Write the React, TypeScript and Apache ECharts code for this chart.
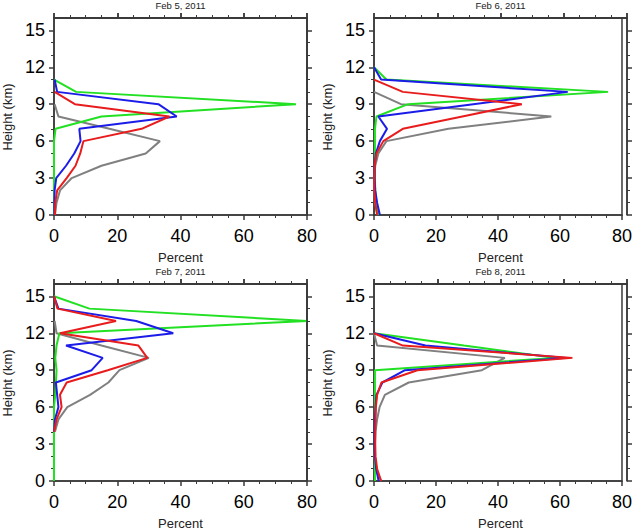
import React, { useEffect, useRef } from "react";
import * as echarts from "echarts";

const HEIGHTS = [0, 1, 2, 3, 4, 5, 6, 7, 8, 9, 10, 11, 12, 13, 14, 15];
const TITLES = ["Feb 5, 2011", "Feb 6, 2011", "Feb 7, 2011", "Feb 8, 2011"];
const Y_TICKS = [0, 3, 6, 9, 12, 15];

// values indexed by height (km) from 0; null = no data at that height
const FEB5_GRAY = [0.3, 0.8, 1.9, 5.6, 15, 29, 33.5, 17.5, 1.4, 0.2];
const FEB5_GREEN = [0, 0, 0, 0, 0, 0, 0, 0.5, 15, 76.5, 7, 0];
const FEB5_BLUE = [0.1, 0.1, 0.2, 0.7, 3.8, 6.4, 8.4, 8, 38.8, 33, 1, 0.2];
const FEB5_RED = [0.3, 0.4, 1.0, 4, 6.8, 8.3, 9.3, 27.7, 36.5, 6.6, 0.2];

const FEB6_GRAY = [1.2, 0.3, 0.1, 0.1, 0.4, 1.4, 4, 24, 57.2, 8.7, 0];
const FEB6_GREEN = [1.5, 0.8, 0.4, 0.3, 0.3, 0.3, 0.3, 0.3, 0.8, 11, 75.5, 4, 0];
const FEB6_BLUE = [1.9, 1, 0.4, 0.2, 0.2, 0.6, 1.9, 4.2, 1.4, 32, 62.5, 2.3, 0];
const FEB6_RED = [1, 0.4, 0.1, 0.1, 0.2, 0.8, 3, 9.3, 28.5, 47.7, 9.3, 0];

const FEB7_GRAY = [null, null, null, null, 0.3, 1.4, 4.2, 11.4, 17.2, 20.7, 30, 15, 0.8, 0.2];
const FEB7_GREEN = [0, 0, 0, 0, 0, 0, 0, 0.4, 0.6, 0.8, 0.4, 0.8, 1.7, 80, 11.2, 0];
const FEB7_BLUE = [null, null, null, null, 0, 0.3, 1.4, 1, 0.6, 11.9, 15.4, 3.8, 37.7, 26, 1.4, 0];
const FEB7_RED = [null, null, null, null, 0, 0.8, 2.4, 1.9, 4, 17, 29.5, 26.7, 1.9, 19.6, 1.1, 0];

const FEB8_GRAY = [2.3, 0.5, 0.2, 0.3, 0.5, 1, 1.8, 3.5, 11.2, 34.8, 42.2, 1, 0];
const FEB8_GREEN = [0.3, 0.3, 0.3, 0.3, 0.3, 0.3, 0.3, 0.3, 0.3, 0.3, 58.5, 29, 0];
const FEB8_BLUE = [1.5, 0.7, 0.3, 0.2, 0.2, 0.3, 0.5, 0.8, 2.7, 10, 62, 16.6, 0];
const FEB8_RED = [2.3, 1, 0.5, 0.4, 0.4, 0.5, 0.6, 1, 2.4, 14, 64, 9.3, 0];

const PANELS = [
  [FEB5_GRAY, FEB5_GREEN, FEB5_BLUE, FEB5_RED],
  [FEB6_GRAY, FEB6_GREEN, FEB6_BLUE, FEB6_RED],
  [FEB7_GRAY, FEB7_GREEN, FEB7_BLUE, FEB7_RED],
  [FEB8_GRAY, FEB8_GREEN, FEB8_BLUE, FEB8_RED],
];
const COLORS = ["#808080", "#22e022", "#1c1ce8", "#e81c1c"];

const FONT = "'Liberation Sans', Arial, Helvetica, sans-serif";
const AXIS_COLOR = "#3a3a3a";
const POS = [
  { left: 54, top: 18 },
  { left: 374, top: 18 },
  { left: 54, top: 284 },
  { left: 374, top: 284 },
];
const W = 253;
const H = 197;
const X_MAX = 80;
const Y_MAX = 16;

function toPairs(vals: (number | null)[]) {
  const out: [number, number][] = [];
  vals.forEach((v, i) => {
    if (v !== null && v !== undefined) out.push([v, HEIGHTS[i]]);
  });
  return out;
}

function buildOption() {
  const grid: any[] = [];
  const xAxis: any[] = [];
  const yAxis: any[] = [];
  const series: any[] = [];
  const graphic: any[] = [];
  const lineStyle = { color: AXIS_COLOR, width: 1.5 };
  const minorLine = { color: AXIS_COLOR, width: 1 };

  const xCommon = (gridIndex: number, position: string) => ({
    type: "value", gridIndex, position, min: 0, max: X_MAX, interval: 20,
    axisLine: { show: true, onZero: false, lineStyle },
    minorTick: { show: true, splitNumber: 4, length: 3, lineStyle: minorLine },
    splitLine: { show: false },
  });
  const yCommon = (gridIndex: number) => ({
    type: "value", gridIndex, position: "left", min: 0, max: Y_MAX, interval: 3,
    axisLine: { show: true, onZero: false, lineStyle },
    minorTick: { show: true, splitNumber: 3, length: 3, lineStyle: minorLine },
    splitLine: { show: false },
  });
  const quietAxis = (gridIndex: number, max: number) => ({
    type: "value", gridIndex, min: 0, max,
    axisLine: { show: false, onZero: false },
    axisTick: { show: false },
    axisLabel: { show: false },
    splitLine: { show: false },
  });

  POS.forEach((p, gi) => {
    const gMain = grid.length;
    grid.push({
      left: p.left, top: p.top, width: W, height: H, containLabel: false,
      show: true, borderColor: AXIS_COLOR, borderWidth: 1.5, backgroundColor: "transparent",
    });
    const gTopOut = grid.length;
    grid.push({ left: p.left, top: p.top - 14, width: W, height: 14, containLabel: false });
    const gTopIn = grid.length;
    grid.push({ left: p.left, top: p.top, width: W, height: 14, containLabel: false });
    const gRight = grid.length;
    grid.push({ left: p.left + W, top: p.top, width: 6, height: H, containLabel: false });

    // main panel axes (bottom / left)
    const xMain = xAxis.length;
    xAxis.push({
      ...xCommon(gMain, "bottom"),
      axisTick: { show: true, inside: false, length: 5, lineStyle },
      axisLabel: { show: true, fontSize: 18, color: "#000", fontFamily: FONT, margin: 12 },
    });
    const yMain = yAxis.length;
    yAxis.push({
      ...yCommon(gMain),
      axisTick: { show: true, inside: false, length: 5, lineStyle, customValues: Y_TICKS },
      axisLabel: { show: true, fontSize: 18, color: "#000", fontFamily: FONT, margin: 9, customValues: Y_TICKS },
    });

    // top frame (a): bottom axis of a thin grid lying just above the panel
    const xTopOut = xAxis.length;
    xAxis.push({
      ...xCommon(gTopOut, "bottom"),
      axisTick: { show: true, inside: true, length: 5, lineStyle },
      axisLabel: { show: false },
    });
    const yTopOut = yAxis.length;
    yAxis.push(quietAxis(gTopOut, 1));

    // top frame (b): top axis of a thin grid lying just inside the panel
    const xTopIn = xAxis.length;
    xAxis.push({
      ...xCommon(gTopIn, "top"),
      axisTick: { show: true, inside: false, length: 5, lineStyle },
      axisLabel: { show: false },
    });
    const yTopIn = yAxis.length;
    yAxis.push(quietAxis(gTopIn, 1));

    // right frame: left axis of a thin grid lying on the panel's right edge
    const xRight = xAxis.length;
    xAxis.push(quietAxis(gRight, 1));
    const yRight = yAxis.length;
    yAxis.push({
      ...yCommon(gRight),
      axisTick: { show: true, inside: true, length: 5, lineStyle, customValues: Y_TICKS },
      axisLabel: { show: false },
    });

    series.push({ type: "line", xAxisIndex: xTopOut, yAxisIndex: yTopOut, data: [], symbol: "none", silent: true });
    series.push({ type: "line", xAxisIndex: xTopIn, yAxisIndex: yTopIn, data: [], symbol: "none", silent: true });
    series.push({ type: "line", xAxisIndex: xRight, yAxisIndex: yRight, data: [], symbol: "none", silent: true });

    PANELS[gi].forEach((vals, si) => {
      series.push({
        type: "line",
        xAxisIndex: xMain,
        yAxisIndex: yMain,
        data: toPairs(vals),
        symbol: "none",
        lineStyle: { color: COLORS[si], width: 2 },
        itemStyle: { color: COLORS[si] },
        z: 2 + si,
      });
    });

    graphic.push({
      type: "polyline",
      shape: { points: [[p.left, p.top], [p.left + W, p.top], [p.left + W, p.top + H]] },
      style: { stroke: AXIS_COLOR, lineWidth: 1.5, fill: null },
      silent: true,
      z: 50,
    });
    graphic.push({
      type: "text",
      x: p.left + W / 2,
      y: p.top - 12.5,
      style: { text: TITLES[gi], fontSize: 9.5, fontFamily: FONT, fill: "#222", align: "center", verticalAlign: "middle" },
    });
    graphic.push({
      type: "text",
      x: p.left + W / 2,
      y: p.top + H + 42.5,
      style: { text: "Percent", fontSize: 13, fontFamily: FONT, fill: "#222", align: "center", verticalAlign: "middle" },
    });
    graphic.push({
      type: "text",
      x: p.left - 47,
      y: p.top + 99,
      rotation: Math.PI / 2,
      style: { text: "Height (km)", fontSize: 13, fontFamily: FONT, fill: "#222", align: "center", verticalAlign: "middle" },
    });
  });

  return {
    animation: false,
    backgroundColor: "#ffffff",
    grid,
    xAxis,
    yAxis,
    series,
    graphic,
  };
}

export default function App() {
  const ref = useRef<HTMLDivElement>(null);
  useEffect(() => {
    if (!ref.current) return;
    const chart = echarts.init(ref.current, null, { renderer: "svg" });
    chart.setOption(buildOption() as any);
    return () => chart.dispose();
  }, []);
  return (
    <div
      ref={ref}
      style={{ position: "absolute", left: 0, top: 0, width: 635, height: 530, background: "#fff" }}
    />
  );
}
